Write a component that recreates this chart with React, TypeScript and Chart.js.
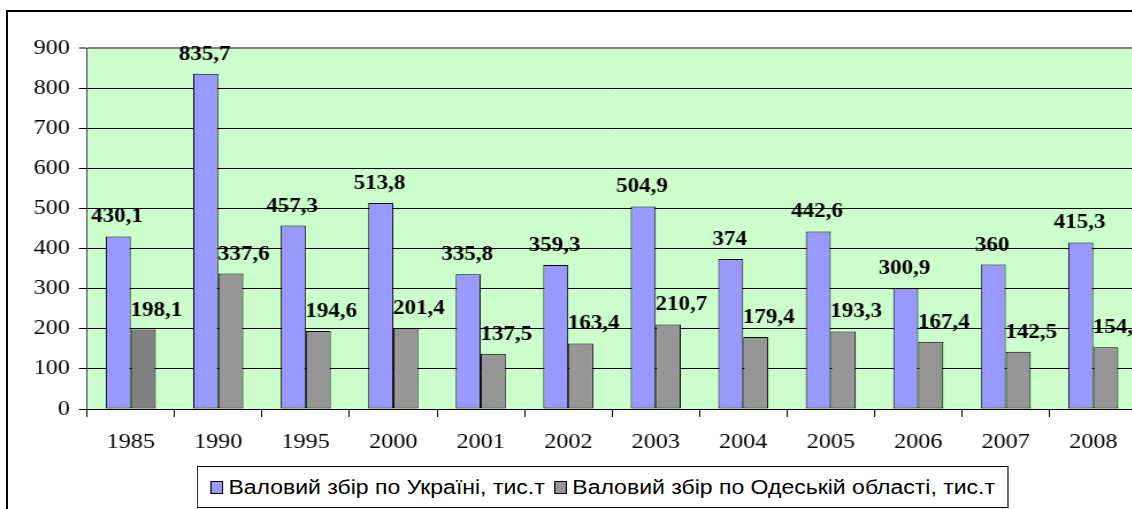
import React, { useEffect, useRef } from "react";
import { Chart, registerables } from "chart.js";

Chart.register(...registerables);

const categories = ["1985", "1990", "1995", "2000", "2001", "2002", "2003", "2004", "2005", "2006", "2007", "2008"];
const ukraineValues = [430.1, 835.7, 457.3, 513.8, 335.8, 359.3, 504.9, 374, 442.6, 300.9, 360, 415.3];
const odesaValues = [198.1, 337.6, 194.6, 201.4, 137.5, 163.4, 210.7, 179.4, 193.3, 167.4, 142.5, 154.2];
const seriesNames = ["Валовий збір по Україні, тис.т", "Валовий збір по Одеській області, тис.т"];
const yTicks = [0, 100, 200, 300, 400, 500, 600, 700, 800, 900];

const BLUE = "#9999FF";
const GRAY = "#969696";
const DARK_GRAY = "#808080";
const PLOT_BG = "#CCFFCC";
const SERIF = '"Liberation Serif", "Times New Roman", serif';
const SANS = '"Liberation Sans", Arial, sans-serif';

// the original picture is stretched horizontally; draw in narrower space and stretch
const S = 1.15;
const CANVAS_W = 1010;
const CANVAS_H = 509;

const fmt = (v: number) => String(v).replace(".", ",");

const plotBgPlugin = {
  id: "plotBg",
  beforeDraw(chart: any) {
    const { ctx, chartArea } = chart;
    ctx.save();
    ctx.fillStyle = PLOT_BG;
    ctx.fillRect(chartArea.left, chartArea.top, chartArea.right - chartArea.left, chartArea.bottom - chartArea.top);
    ctx.restore();
  },
};

const labelPlugin = {
  id: "valueLabels",
  afterDatasetsDraw(chart: any) {
    const { ctx } = chart;
    const dx = [-1, 11.3];
    chart.data.datasets.forEach((ds: any, di: number) => {
      const meta = chart.getDatasetMeta(di);
      meta.data.forEach((el: any, i: number) => {
        ctx.save();
        ctx.font = `bold 20px ${SERIF}`;
        ctx.fillStyle = "#000";
        ctx.textAlign = "center";
        ctx.textBaseline = "alphabetic";
        ctx.fillText(fmt(ds.data[i]), el.x + dx[di], el.y - 14);
        ctx.restore();
      });
    });
  },
};

function App() {
  const ref = useRef<HTMLCanvasElement | null>(null);

  useEffect(() => {
    if (!ref.current) return;
    const chart = new Chart(ref.current, {
      type: "bar",
      data: {
        labels: categories,
        datasets: [
          {
            label: seriesNames[0],
            data: ukraineValues,
            backgroundColor: BLUE,
            borderColor: "#000",
            borderWidth: 1,
            borderSkipped: false,
            categoryPercentage: 0.572,
            barPercentage: 1,
          },
          {
            label: seriesNames[1],
            data: odesaValues,
            backgroundColor: odesaValues.map((_, i) => (i === 0 ? DARK_GRAY : GRAY)),
            borderColor: "#000",
            borderWidth: 1,
            borderSkipped: false,
            categoryPercentage: 0.572,
            barPercentage: 1,
          },
        ],
      },
      options: {
        responsive: false,
        animation: false,
        devicePixelRatio: 1,
        layout: { padding: { top: 48, right: CANVAS_W - 1137 / S, left: 0, bottom: 0 } },
        plugins: {
          legend: { display: false },
          tooltip: { enabled: false },
        },
        scales: {
          x: {
            grid: {
              display: true,
              offset: true,
              drawOnChartArea: false,
              tickLength: 8,
              color: "#000",
              lineWidth: 1,
            },
            border: { display: true, color: "#000", width: 1 },
            ticks: {
              color: "#000",
              font: { family: SERIF, size: 21 },
              padding: 13,
              maxRotation: 0,
              autoSkip: false,
            },
            afterFit(scale: any) {
              scale.height = 100;
            },
          },
          y: {
            min: 0,
            max: 900,
            afterBuildTicks(scale: any) {
              scale.ticks = yTicks.map((v) => ({ value: v }));
            },
            grid: {
              color: (c: any) => (c.tick && c.tick.value === 900 ? "#808080" : "#000"),
              lineWidth: (c: any) => (c.tick && c.tick.value === 900 ? 2 : 1),
              tickLength: 7,
            },
            border: { display: true, color: "#404040", width: 1 },
            ticks: {
              color: "#000",
              font: { family: SERIF, size: 21 },
              padding: 8,
            },
            afterFit(scale: any) {
              scale.width = 87 / S;
            },
          },
        },
      },
      plugins: [plotBgPlugin, labelPlugin],
    } as any);
    return () => chart.destroy();
  }, []);

  return (
    <div style={{ position: "absolute", left: 0, top: 0, width: 1132, height: 509, overflow: "hidden", background: "#fff" }}>
      <div
        style={{
          position: "absolute",
          left: 6,
          top: 10,
          width: 1200,
          height: 600,
          border: "2px solid #000",
          boxSizing: "border-box",
        }}
      />
      <div
        style={{
          position: "absolute",
          left: 0,
          top: 0,
          width: CANVAS_W,
          height: CANVAS_H,
          transform: `scaleX(${S})`,
          transformOrigin: "0 0",
        }}
      >
        <canvas ref={ref} width={CANVAS_W} height={CANVAS_H} style={{ position: "absolute", left: 0, top: 0 }} />
        <div
          style={{
            position: "absolute",
            left: 197 / S,
            top: 466,
            width: 811 / S,
            height: 42,
            border: "1px solid #000",
            boxSizing: "border-box",
            background: "#fff",
            display: "flex",
            alignItems: "center",
            justifyContent: "center",
            fontFamily: SANS,
            fontSize: 20,
            color: "#000",
            whiteSpace: "nowrap",
          }}
        >
          {seriesNames.map((name, i) => (
            <span key={name} style={{ display: "inline-flex", alignItems: "center", marginLeft: i === 0 ? 0 : 8 }}>
              <span
                style={{
                  display: "inline-block",
                  width: 9,
                  height: 11,
                  border: "1px solid #000",
                  background: i === 0 ? BLUE : GRAY,
                  marginRight: 5,
                }}
              />
              {name}
            </span>
          ))}
        </div>
      </div>
    </div>
  );
}

export default App;
